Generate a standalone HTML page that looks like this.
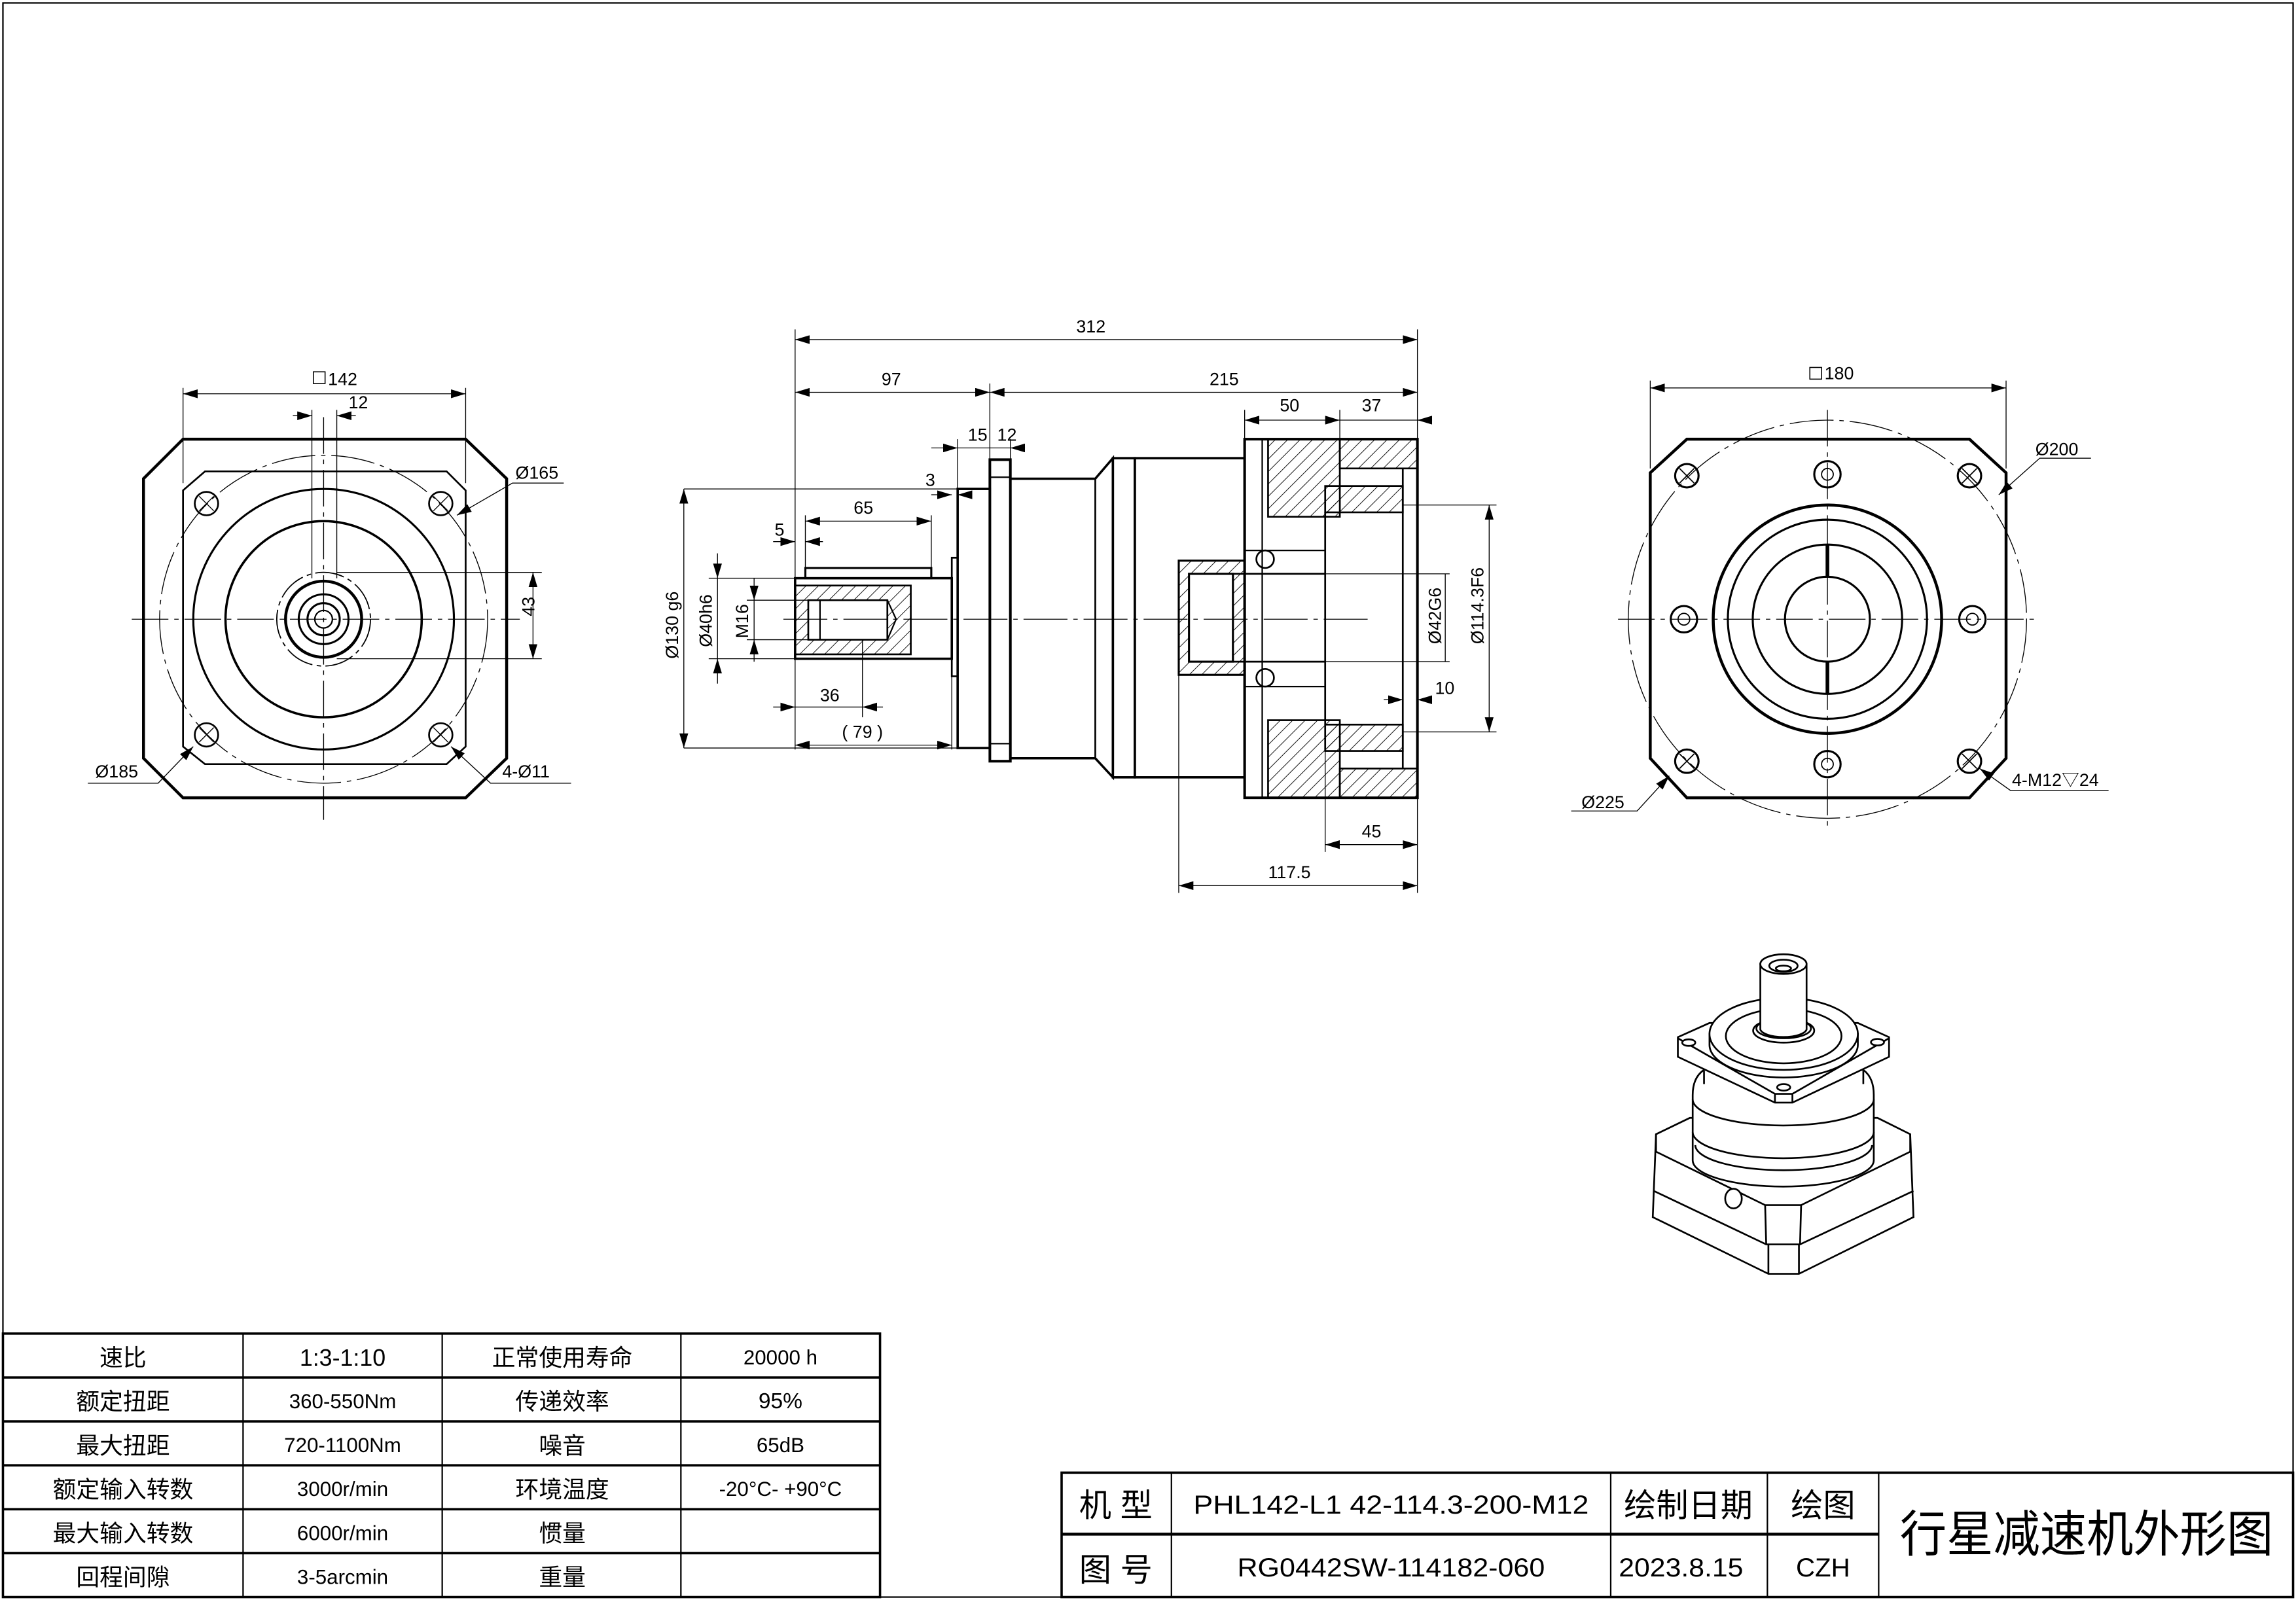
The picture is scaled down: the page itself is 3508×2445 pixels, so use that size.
<!DOCTYPE html>
<html><head><meta charset="utf-8"><style>
html,body{margin:0;padding:0;background:#fff;}
svg{display:block;}
text{font-family:"Liberation Sans","Noto Sans CJK SC",sans-serif;fill:#000;}
</style></head><body>
<svg width="3508" height="2445" viewBox="0 0 1568 1093" preserveAspectRatio="none" xmlns="http://www.w3.org/2000/svg">
<defs>
<pattern id="h" width="6" height="6" patternUnits="userSpaceOnUse" patternTransform="rotate(45)">
<line x1="0" y1="0" x2="0" y2="6" stroke="#000" stroke-width="0.8"/></pattern>
<marker id="a" markerWidth="10" markerHeight="6" refX="10" refY="3" orient="auto-start-reverse" markerUnits="userSpaceOnUse"><path d="M0,0 L10,3 L0,6z" fill="#000"/></marker>
</defs>
<rect x="0" y="0" width="1568" height="1093" fill="#fff"/>
<rect x="2" y="2" width="1564" height="1089" fill="none" stroke="#000" stroke-width="1"/>

<!-- LEFT VIEW -->
<g fill="none" stroke="#000">
<path d="M125,300 L318,300 L346,327 L346,518 L318,545 L125,545 L98,518 L98,327 Z" stroke-width="2"/>
<path d="M140,322 L305,322 L318,335 L318,510 L305,522 L140,522 L125,510 L125,335 Z" stroke-width="1.2"/>
<circle cx="221" cy="423" r="112" stroke-width="0.6" stroke-dasharray="30,4,3,4"/>
<circle cx="221" cy="423" r="89" stroke-width="1.4"/>
<circle cx="221" cy="423" r="67" stroke-width="1.6"/>
<circle cx="221" cy="423" r="32" stroke-width="0.8" stroke-dasharray="20,3,3,3"/>
<circle cx="221" cy="423" r="26" stroke-width="2"/>
<circle cx="221" cy="423" r="17" stroke-width="1.4"/>
<circle cx="221" cy="423" r="11" stroke-width="1.4"/>
<circle cx="221" cy="423" r="6" stroke-width="1"/>
<g stroke-width="1.2"><circle cx="141" cy="344" r="8"/><circle cx="301" cy="344" r="8"/><circle cx="141" cy="502" r="8"/><circle cx="301" cy="502" r="8"/></g>
<g stroke-width="0.6"><path d="M136,339 l10,10 M146,339 l-10,10 M296,339 l10,10 M306,339 l-10,10 M136,497 l10,10 M146,497 l-10,10 M296,497 l10,10 M306,497 l-10,10"/></g>
<line x1="213" y1="280" x2="213" y2="395" stroke-width="0.6"/><line x1="230" y1="280" x2="230" y2="395" stroke-width="0.6"/>
<line x1="221" y1="285" x2="221" y2="560" stroke-width="0.6" stroke-dasharray="25,4,3,4"/>
<line x1="90" y1="423" x2="355" y2="423" stroke-width="0.6" stroke-dasharray="25,4,3,4"/>
<line x1="230" y1="391" x2="370" y2="391" stroke-width="0.6"/><line x1="230" y1="450" x2="370" y2="450" stroke-width="0.6"/>
<line x1="364" y1="391" x2="364" y2="450" stroke-width="0.6" marker-start="url(#a)" marker-end="url(#a)"/>
<line x1="125" y1="265" x2="125" y2="330" stroke-width="0.6"/><line x1="318" y1="265" x2="318" y2="330" stroke-width="0.6"/>
<line x1="125" y1="269" x2="318" y2="269" stroke-width="0.6" marker-start="url(#a)" marker-end="url(#a)"/>
<line x1="200" y1="284" x2="213" y2="284" stroke-width="0.6" marker-end="url(#a)"/><line x1="243" y1="284" x2="230" y2="284" stroke-width="0.6" marker-end="url(#a)"/>
<path d="M385,330 L350,330 L312,352" stroke-width="0.6" marker-end="url(#a)"/>
<path d="M60,535 L108,535 L132,510" stroke-width="0.6" marker-end="url(#a)"/>
<path d="M390,535 L335,535 L308,510" stroke-width="0.6" marker-end="url(#a)"/>
</g>
<g font-size="12">
<rect x="214" y="254" width="8" height="8" fill="none" stroke="#000" stroke-width="0.7"/>
<text x="224" y="263">142</text><text x="238" y="279">12</text>
<text x="352" y="327">Ø165</text><text x="65" y="531">Ø185</text><text x="343" y="531">4-Ø11</text>
<text x="360" y="426" transform="rotate(-90 360 421)">43</text>
</g>

<!-- MIDDLE VIEW -->
<g fill="none" stroke="#000">
<rect x="543" y="395" width="107" height="55" stroke-width="1.6"/>
<path d="M550,388 L636,388 L636,395 L550,395 Z" stroke-width="1.4"/>
<rect x="543" y="400" width="79" height="47" fill="url(#h)" stroke-width="1.2"/>
<rect x="552" y="410" width="54" height="27" fill="#fff" stroke-width="1.2"/>
<line x1="560" y1="410" x2="560" y2="437" stroke-width="1"/>
<path d="M606,410 L612,423 L606,437" stroke-width="1"/>
<rect x="650" y="381" width="4" height="81" stroke-width="1.2"/>
<rect x="654" y="334" width="22" height="177" stroke-width="1.6"/>
<rect x="676" y="314" width="14" height="206" stroke-width="1.8"/>
<line x1="676" y1="326" x2="690" y2="326" stroke-width="1"/><line x1="676" y1="508" x2="690" y2="508" stroke-width="1"/>
<path d="M690,327 L748,327 L760,313 L760,531 L748,518 L690,518" stroke-width="1.6"/>
<line x1="748" y1="327" x2="748" y2="518" stroke-width="1.2"/>
<rect x="760" y="313" width="15" height="218" stroke-width="1.6"/>
<rect x="775" y="313" width="75" height="218" stroke-width="1.6"/>
<rect x="850" y="300" width="118" height="245" stroke-width="1.8"/>
<rect x="866" y="300" width="49" height="53" fill="url(#h)" stroke-width="1.2"/>
<rect x="866" y="492" width="49" height="53" fill="url(#h)" stroke-width="1.2"/>
<rect x="915" y="300" width="53" height="20" fill="url(#h)" stroke-width="1.2"/>
<rect x="915" y="525" width="53" height="20" fill="url(#h)" stroke-width="1.2"/>
<rect x="905" y="332" width="53" height="18" fill="url(#h)" stroke-width="1.2"/>
<rect x="905" y="495" width="53" height="18" fill="url(#h)" stroke-width="1.2"/>
<line x1="862" y1="300" x2="862" y2="545" stroke-width="1"/>
<line x1="905" y1="350" x2="905" y2="495" stroke-width="1.2"/>
<line x1="958" y1="320" x2="958" y2="525" stroke-width="1.2"/>
<line x1="915" y1="320" x2="958" y2="320" stroke-width="1"/><line x1="915" y1="525" x2="958" y2="525" stroke-width="1"/>
<rect x="805" y="383" width="45" height="78" fill="url(#h)" stroke-width="1.4"/>
<rect x="812" y="392" width="30" height="60" fill="#fff" stroke-width="1.4"/>
<line x1="842" y1="392" x2="905" y2="392" stroke-width="1.2"/><line x1="842" y1="452" x2="905" y2="452" stroke-width="1.2"/>
<circle cx="864" cy="382" r="6" stroke-width="1.2"/><circle cx="864" cy="463" r="6" stroke-width="1.2"/>
<line x1="850" y1="376" x2="905" y2="376" stroke-width="1"/><line x1="850" y1="469" x2="905" y2="469" stroke-width="1"/>
<line x1="535" y1="423" x2="935" y2="423" stroke-width="0.6" stroke-dasharray="30,4,3,4"/>
<g stroke-width="0.6">
<line x1="543" y1="225" x2="543" y2="512"/><line x1="968" y1="225" x2="968" y2="300"/>
<line x1="543" y1="232" x2="968" y2="232" marker-start="url(#a)" marker-end="url(#a)"/>
<line x1="676" y1="262" x2="676" y2="314"/>
<line x1="543" y1="268" x2="676" y2="268" marker-start="url(#a)" marker-end="url(#a)"/>
<line x1="676" y1="268" x2="968" y2="268" marker-start="url(#a)" marker-end="url(#a)"/>
<line x1="850" y1="280" x2="850" y2="300"/><line x1="915" y1="280" x2="915" y2="300"/>
<line x1="850" y1="287" x2="915" y2="287" marker-start="url(#a)" marker-end="url(#a)"/>
<line x1="915" y1="287" x2="978" y2="287"/><line x1="978" y1="287" x2="968" y2="287" marker-end="url(#a)"/>
<line x1="654" y1="300" x2="654" y2="334"/><line x1="690" y1="300" x2="690" y2="314"/>
<line x1="636" y1="306" x2="654" y2="306" marker-end="url(#a)"/><line x1="700" y1="306" x2="690" y2="306" marker-end="url(#a)"/>
<line x1="654" y1="306" x2="690" y2="306"/>
<line x1="467" y1="334" x2="654" y2="334"/><line x1="467" y1="511" x2="654" y2="511"/>
<line x1="636" y1="338" x2="650" y2="338" marker-end="url(#a)"/><line x1="664" y1="338" x2="654" y2="338" marker-end="url(#a)"/>
<line x1="550" y1="352" x2="550" y2="388"/><line x1="636" y1="352" x2="636" y2="388"/>
<line x1="550" y1="356" x2="636" y2="356" marker-start="url(#a)" marker-end="url(#a)"/>
<line x1="528" y1="370" x2="543" y2="370" marker-end="url(#a)"/><line x1="562" y1="370" x2="550" y2="370" marker-end="url(#a)"/>
<line x1="467" y1="334" x2="467" y2="511" marker-start="url(#a)" marker-end="url(#a)"/>
<line x1="484" y1="395" x2="543" y2="395"/><line x1="484" y1="450" x2="543" y2="450"/>
<line x1="490" y1="378" x2="490" y2="395" marker-end="url(#a)"/><line x1="490" y1="467" x2="490" y2="450" marker-end="url(#a)"/>
<line x1="490" y1="395" x2="490" y2="450"/>
<line x1="510" y1="410" x2="552" y2="410"/><line x1="510" y1="437" x2="552" y2="437"/>
<line x1="515" y1="395" x2="515" y2="410" marker-end="url(#a)"/><line x1="515" y1="452" x2="515" y2="437" marker-end="url(#a)"/>
<line x1="515" y1="410" x2="515" y2="437"/>
<line x1="589" y1="437" x2="589" y2="490"/>
<line x1="528" y1="483" x2="543" y2="483" marker-end="url(#a)"/><line x1="603" y1="483" x2="589" y2="483" marker-end="url(#a)"/><line x1="543" y1="483" x2="589" y2="483"/>
<line x1="650" y1="462" x2="650" y2="512"/>
<line x1="543" y1="509" x2="650" y2="509" marker-start="url(#a)" marker-end="url(#a)"/>
<line x1="905" y1="500" x2="905" y2="582"/><line x1="968" y1="545" x2="968" y2="610"/>
<line x1="905" y1="577" x2="968" y2="577" marker-start="url(#a)" marker-end="url(#a)"/>
<line x1="805" y1="461" x2="805" y2="610"/>
<line x1="805" y1="605" x2="968" y2="605" marker-start="url(#a)" marker-end="url(#a)"/>
<line x1="958" y1="345" x2="1022" y2="345"/><line x1="958" y1="500" x2="1022" y2="500"/>
<line x1="1017" y1="345" x2="1017" y2="500" marker-start="url(#a)" marker-end="url(#a)"/>
<line x1="905" y1="392" x2="990" y2="392"/><line x1="905" y1="452" x2="990" y2="452"/>
<line x1="987" y1="392" x2="987" y2="452"/>
<line x1="945" y1="478" x2="958" y2="478" marker-end="url(#a)"/><line x1="978" y1="478" x2="968" y2="478" marker-end="url(#a)"/>
</g>
</g>
<g font-size="12">
<text x="735" y="227">312</text><text x="602" y="263">97</text><text x="826" y="263">215</text>
<text x="874" y="281">50</text><text x="930" y="281">37</text><text x="661" y="301">15</text><text x="681" y="301">12</text>
<text x="632" y="332">3</text><text x="583" y="351">65</text><text x="529" y="366">5</text>
<text x="560" y="479">36</text><text x="575" y="504">( 79 )</text><text x="930" y="572">45</text><text x="866" y="600">117.5</text>
<text x="980" y="474">10</text>
<text transform="translate(463,450) rotate(-90)">Ø130 g6</text>
<text transform="translate(486,442) rotate(-90)">Ø40h6</text>
<text transform="translate(511,436) rotate(-90)">M16</text>
<text transform="translate(984,440) rotate(-90)">Ø42G6</text>
<text transform="translate(1013,440) rotate(-90)">Ø114.3F6</text>
</g>

<!-- RIGHT VIEW -->
<g fill="none" stroke="#000">
<path d="M1152,300 L1345,300 L1370,323 L1370,518 L1345,545 L1152,545 L1127,518 L1127,323 Z" stroke-width="2"/>
<circle cx="1248" cy="423" r="136" stroke-width="0.6" stroke-dasharray="30,4,3,4"/>
<circle cx="1248" cy="423" r="78" stroke-width="2"/>
<circle cx="1248" cy="423" r="68" stroke-width="1.4"/>
<circle cx="1248" cy="423" r="51" stroke-width="1.4"/>
<circle cx="1248" cy="423" r="29" stroke-width="1.4"/>
<line x1="1248" y1="372" x2="1248" y2="394" stroke-width="2.5"/><line x1="1248" y1="452" x2="1248" y2="474" stroke-width="2.5"/>
<g stroke-width="1.4"><circle cx="1152" cy="325" r="8"/><circle cx="1345" cy="325" r="8"/><circle cx="1152" cy="520" r="8"/><circle cx="1345" cy="520" r="8"/>
<circle cx="1248" cy="324" r="9"/><circle cx="1248" cy="522" r="9"/><circle cx="1150" cy="423" r="9"/><circle cx="1347" cy="423" r="9"/></g>
<g stroke-width="0.8"><circle cx="1248" cy="324" r="4"/><circle cx="1248" cy="522" r="4"/><circle cx="1150" cy="423" r="4"/><circle cx="1347" cy="423" r="4"/>
<path d="M1147,320 l10,10 M1157,320 l-10,10 M1340,320 l10,10 M1350,320 l-10,10 M1147,515 l10,10 M1157,515 l-10,10 M1340,515 l10,10 M1350,515 l-10,10"/></g>
<line x1="1105" y1="423" x2="1390" y2="423" stroke-width="0.6" stroke-dasharray="25,4,3,4"/>
<line x1="1248" y1="280" x2="1248" y2="566" stroke-width="0.6" stroke-dasharray="25,4,3,4"/>
<g stroke-width="0.6">
<line x1="1127" y1="260" x2="1127" y2="320"/><line x1="1370" y1="260" x2="1370" y2="320"/>
<line x1="1127" y1="265" x2="1370" y2="265" marker-start="url(#a)" marker-end="url(#a)"/>
<path d="M1428,313 L1393,313 L1365,338" marker-end="url(#a)"/>
<path d="M1073,554 L1118,554 L1140,530" marker-end="url(#a)"/>
<path d="M1440,540 L1373,540 L1352,525" marker-end="url(#a)"/>
</g>
</g>
<g font-size="12">
<rect x="1236" y="251" width="8" height="8" fill="none" stroke="#000" stroke-width="0.7"/>
<text x="1246" y="259">180</text><text x="1390" y="311">Ø200</text><text x="1080" y="552">Ø225</text><text x="1374" y="537">4-M12▽24</text>
</g>

<!-- 3D VIEW -->
<g transform="translate(1108.6,643.7) scale(0.149)" fill="#fff" stroke="#000" stroke-width="8">
<path d="M150,880 L305,805 L1165,805 L1315,880 L1330,1260 L805,1520 L665,1520 L135,1260 Z"/>
<path d="M150,960 L650,1205 L815,1205 L1315,960" fill="none"/>
<path d="M140,1140 L655,1385 L810,1385 L1330,1140" fill="none"/>
<path d="M650,1205 L655,1385 M815,1205 L810,1385 M665,1385 L665,1520 M805,1385 L805,1520 M150,880 L150,960 M1315,880 L1315,960" fill="none"/>
<ellipse cx="505" cy="1175" rx="38" ry="45"/>
<path d="M370,585 Q318,620 318,700 L318,1000 A415,120 0 0 0 1148,1000 L1148,700 Q1148,620 1100,585 Z"/>
<path d="M318,720 A415,120 0 0 0 1148,720 M318,870 A415,120 0 0 0 1148,870 M330,930 A405,115 0 0 0 1140,930" fill="none"/>
<path d="M370,590 L370,650 M1100,590 L1100,650" fill="none"/>
<path d="M250,435 L395,370 L1075,370 L1218,435 L1218,525 L775,735 L695,735 L250,525 Z"/>
<path d="M250,440 L695,695 L775,695 L1218,440 M695,695 L695,735 M775,695 L775,735" fill="none"/>
<ellipse cx="300" cy="460" rx="30" ry="15"/><ellipse cx="1165" cy="458" rx="30" ry="15"/><ellipse cx="735" cy="665" rx="30" ry="15"/>
<path d="M395,420 L395,470 A340,150 0 0 0 1075,470 L1075,420 Z"/>
<ellipse cx="735" cy="420" rx="340" ry="165"/>
<ellipse cx="735" cy="430" rx="265" ry="125"/>
<ellipse cx="735" cy="405" rx="140" ry="55"/>
<ellipse cx="735" cy="395" rx="125" ry="45"/>
<path d="M628,100 L628,400 A107,40 0 0 0 840,400 L840,100 Z"/>
<ellipse cx="734" cy="100" rx="106" ry="45"/>
<ellipse cx="734" cy="108" rx="65" ry="28"/>
<ellipse cx="734" cy="120" rx="35" ry="13"/>
</g>

<!-- PARAMETER TABLE -->
<g fill="none" stroke="#000">
<rect x="2" y="911" width="599" height="180" stroke-width="1.6"/>
<g stroke-width="1.6"><line x1="2" y1="941" x2="601" y2="941"/><line x1="2" y1="971" x2="601" y2="971"/><line x1="2" y1="1001" x2="601" y2="1001"/><line x1="2" y1="1031" x2="601" y2="1031"/><line x1="2" y1="1061" x2="601" y2="1061"/></g>
<g stroke-width="1"><line x1="166" y1="911" x2="166" y2="1091"/><line x1="302" y1="911" x2="302" y2="1091"/><line x1="465" y1="911" x2="465" y2="1091"/></g>
</g>
<g font-size="16" text-anchor="middle">
<text x="84" y="933">速比</text><text x="234" y="933" font-family="Liberation Serif">1:3-1:10</text><text x="384" y="933">正常使用寿命</text><text x="533" y="932" font-size="14">20000 h</text>
<text x="84" y="963">额定扭距</text><text x="234" y="962" font-size="14">360-550Nm</text><text x="384" y="963">传递效率</text><text x="533" y="962" font-size="15">95%</text>
<text x="84" y="993">最大扭距</text><text x="234" y="992" font-size="14">720-1100Nm</text><text x="384" y="993">噪音</text><text x="533" y="992" font-size="14">65dB</text>
<text x="84" y="1023">额定输入转数</text><text x="234" y="1022" font-size="14">3000r/min</text><text x="384" y="1023">环境温度</text><text x="533" y="1022" font-size="14">-20°C- +90°C</text>
<text x="84" y="1053">最大输入转数</text><text x="234" y="1052" font-size="14">6000r/min</text><text x="384" y="1053">惯量</text>
<text x="84" y="1083">回程间隙</text><text x="234" y="1082" font-size="14">3-5arcmin</text><text x="384" y="1083">重量</text>
</g>

<!-- TITLE BLOCK -->
<g fill="none" stroke="#000">
<rect x="725" y="1006" width="841" height="85" stroke-width="1.6"/>
<line x1="725" y1="1048" x2="1283" y2="1048" stroke-width="2"/>
<g stroke-width="1"><line x1="800" y1="1006" x2="800" y2="1091"/><line x1="1100" y1="1006" x2="1100" y2="1091"/><line x1="1207" y1="1006" x2="1207" y2="1091"/><line x1="1283" y1="1006" x2="1283" y2="1091"/></g>
</g>
<g font-size="22" text-anchor="middle">
<text x="762" y="1036">机 型</text><text x="762" y="1080">图 号</text>
<text x="950" y="1034" font-size="18" textLength="270" lengthAdjust="spacingAndGlyphs">PHL142-L1 42-114.3-200-M12</text>
<text x="950" y="1077" font-size="18" textLength="210" lengthAdjust="spacingAndGlyphs">RG0442SW-114182-060</text>
<text x="1153" y="1036">绘制日期</text><text x="1148" y="1077" font-size="18" textLength="85" lengthAdjust="spacingAndGlyphs">2023.8.15</text>
<text x="1245" y="1036">绘图</text><text x="1245" y="1077" font-size="18">CZH</text>
<text x="1425" y="1060" font-size="34" textLength="255" lengthAdjust="spacingAndGlyphs">行星减速机外形图</text>
</g>
</svg>
</body></html>
